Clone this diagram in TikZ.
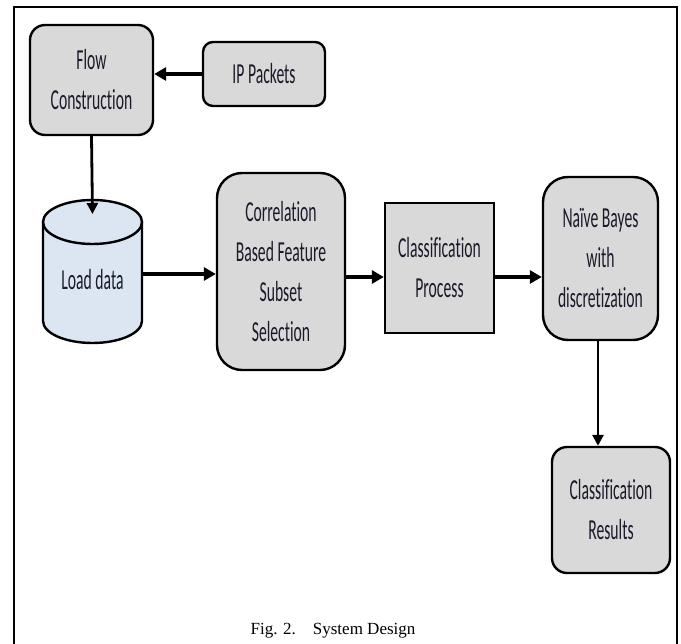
\documentclass[tikz,border=0pt]{standalone}
\usepackage{fontspec}
\setmainfont{Liberation Serif}
\newfontfamily\cond[FakeStretch=0.54,Ligatures={NoCommon}]{Carlito}
\usetikzlibrary{arrows.meta}
\definecolor{boxgray}{HTML}{D9D9D9}
\definecolor{cylblue}{HTML}{DCE6F2}
\definecolor{txt}{HTML}{1A1A2A}
\begin{document}
\begin{tikzpicture}[x=1pt,y=-1pt,
  box/.style={draw=black, line width=2.4pt, fill=boxgray, text=txt,
    font=\cond\fontsize{29}{40}\selectfont, align=center, inner sep=0pt},
  bigarrow/.style={line width=4.5pt, -{Triangle[length=12pt,width=13pt]}},
  thinarrow/.style={line width=2.8pt, -{Triangle[length=11pt,width=11pt]}}
]
\useasboundingbox (0,0) rectangle (681,644);
\fill[white] (0,0) rectangle (681,644);
% frame
\draw[line width=2pt] (14,660) -- (14,7) -- (677,7) -- (677,660);

% nodes
\node[box, rounded corners=15pt, minimum width=123pt, minimum height=110pt] (flow) at (91.5,80) {Flow\\Construction};
\node[box, rounded corners=10pt, minimum width=122pt, minimum height=64pt] (ip) at (264,74) {IP Packets};

% cylinder
\fill[cylblue] (43,222) -- (43,321) arc[start angle=180, end angle=360, x radius=49.5pt, y radius=22pt] -- (142,222) arc[start angle=0, end angle=180, x radius=49.5pt, y radius=22pt] -- cycle;
\draw[line width=2.4pt] (43,222) -- (43,321) arc[start angle=180, end angle=360, x radius=49.5pt, y radius=22pt] -- (142,222);
\draw[line width=2.4pt] (92.5,222) ellipse[x radius=49.5pt, y radius=22pt];
\node[text=txt, font=\cond\fontsize{29}{40}\selectfont, inner sep=0pt] (load) at (92.5,280) {Load data};
\coordinate (cyltop) at (92.5,214);
\coordinate (cylright) at (142,274);

\node[box, rounded corners=25pt, minimum width=128pt, minimum height=197pt] (cfs) at (281,271.5) {Correlation\\Based Feature\\Subset\\Selection};
\node[box, minimum width=109pt, minimum height=130pt] (cp) at (439.5,268) {Classification\\Process};
\node[box, rounded corners=25pt, minimum width=115pt, minimum height=163pt] (nb) at (600.5,258.5) {Naïve Bayes\\with\\discretization};
\node[box, rounded corners=15pt, minimum width=118pt, minimum height=126pt] (res) at (611,510) {Classification\\Results};

% connectors
\draw[bigarrow] (ip.west) -- (flow.east |- ip.west);
\draw[thinarrow] (flow.south) -- (cyltop);
\draw[bigarrow] (cylright) -- (cfs.west |- cylright);
\draw[bigarrow] (cfs.east |- 0,277) -- (cp.west |- 0,277);
\draw[bigarrow] (cp.east |- 0,277) -- (nb.west |- 0,277);
\draw[thinarrow] (nb.south -| 598,0) -- (res.north -| 598,0);

% caption
\node[font=\fontsize{17}{20}\selectfont, anchor=base, inner sep=0pt] (cap) at (333,634) {Fig. 2.\hspace{1em}System Design};
\end{tikzpicture}
\end{document}
